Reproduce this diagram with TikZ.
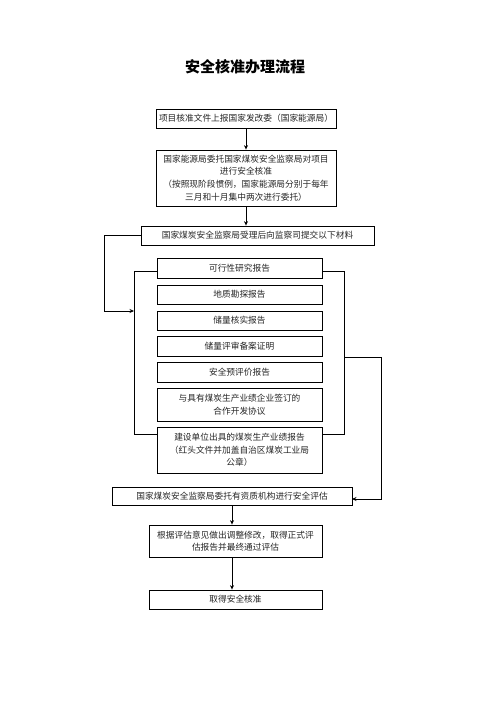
\documentclass[tikz,border=0pt]{standalone}
\usepackage{fontspec}
\newfontfamily\cjk{Noto Sans CJK SC}
\usetikzlibrary{arrows.meta}
\begin{document}
\begin{tikzpicture}[x=1pt,y=-1pt,
  box/.style={draw, line width=0.8pt, inner sep=0pt, align=center,
    font=\cjk\fontsize{8.7}{12.6}\selectfont, text=black!85},
  arr/.style={line width=0.8pt, -{Stealth[length=4.5pt,width=4pt]}},
  ln/.style={line width=0.8pt}]
\useasboundingbox[fill=white] (0,0) rectangle (496,702);

\node[font=\cjk\bfseries\fontsize{15}{18}\selectfont] (title) at (245,67) {安全核准办理流程};

\node[box, minimum width=180pt, minimum height=19pt] (b1) at (246,118.5)
  {项目核准文件上报国家发改委（国家能源局）};
\node[box, minimum width=180pt, minimum height=56pt] (b2) at (246,178)
  {国家能源局委托国家煤炭安全监察局对项目\\进行安全核准\\（按照现阶段惯例，国家能源局分别于每年\\三月和十月集中两次进行委托）};
\node[box, minimum width=233pt, minimum height=19pt] (b3) at (257.5,235.5)
  {国家煤炭安全监察局受理后向监察司提交以下材料};

\node[box, minimum width=165pt, minimum height=20pt] (m1) at (239.5,268) {可行性研究报告};
\node[box, minimum width=165pt, minimum height=19pt] (m2) at (239.5,294.5) {地质勘探报告};
\node[box, minimum width=165pt, minimum height=19pt] (m3) at (239.5,320.5) {储量核实报告};
\node[box, minimum width=165pt, minimum height=20pt] (m4) at (239.5,346) {储量评审备案证明};
\node[box, minimum width=165pt, minimum height=20pt] (m5) at (239.5,372) {安全预评价报告};
\node[box, minimum width=165pt, minimum height=33pt] (m6) at (239.5,404.5)
  {与具有煤炭生产业绩企业签订的\\合作开发协议};
\node[box, minimum width=165pt, minimum height=46pt] (m7) at (239.5,450)
  {建设单位出具的煤炭生产业绩报告\\（红头文件并加盖自治区煤炭工业局\\公章）};

\node[box, minimum width=240pt, minimum height=18pt] (b4) at (232,496)
  {国家煤炭安全监察局委托有资质机构进行安全评估};
\node[box, minimum width=173pt, minimum height=32pt] (b5) at (235.5,541)
  {根据评估意见做出调整修改，取得正式评\\估报告并最终通过评估};
\node[box, minimum width=173pt, minimum height=19pt] (b6) at (235.5,599.5) {取得安全核准};

% bracket coordinates
\coordinate (lt) at (134,271);
\coordinate (lb) at (134,434);
\coordinate (rt) at (344,271);
\coordinate (rb) at (344,434);
\coordinate (lj) at (134,311);
\coordinate (lc) at (104,311);
\coordinate (rj) at (344,357);
\coordinate (rc) at (381,357);
\coordinate (ra) at (352,499);

% main arrows
\draw[arr] (b1.south) -- (b2.north);
\draw[arr] (b2.south) -- (b2.south |- b3.north);
\draw[arr] (b4.south) -- (b4.south |- b5.north);
\draw[arr] (b4.south |- b5.south) -- (b4.south |- b6.north);

% brackets
\draw[ln] (m1.west |- lt) -- (lt) -- (lb) -- (m7.west |- lb);
\draw[ln] (m1.east |- rt) -- (rt) -- (rb) -- (m7.east |- rb);

% loops
\draw[arr] (b3.west) -| (lc) -- (lj);
\draw[arr] (rj) -- (rc) |- (ra);
\end{tikzpicture}
\end{document}
